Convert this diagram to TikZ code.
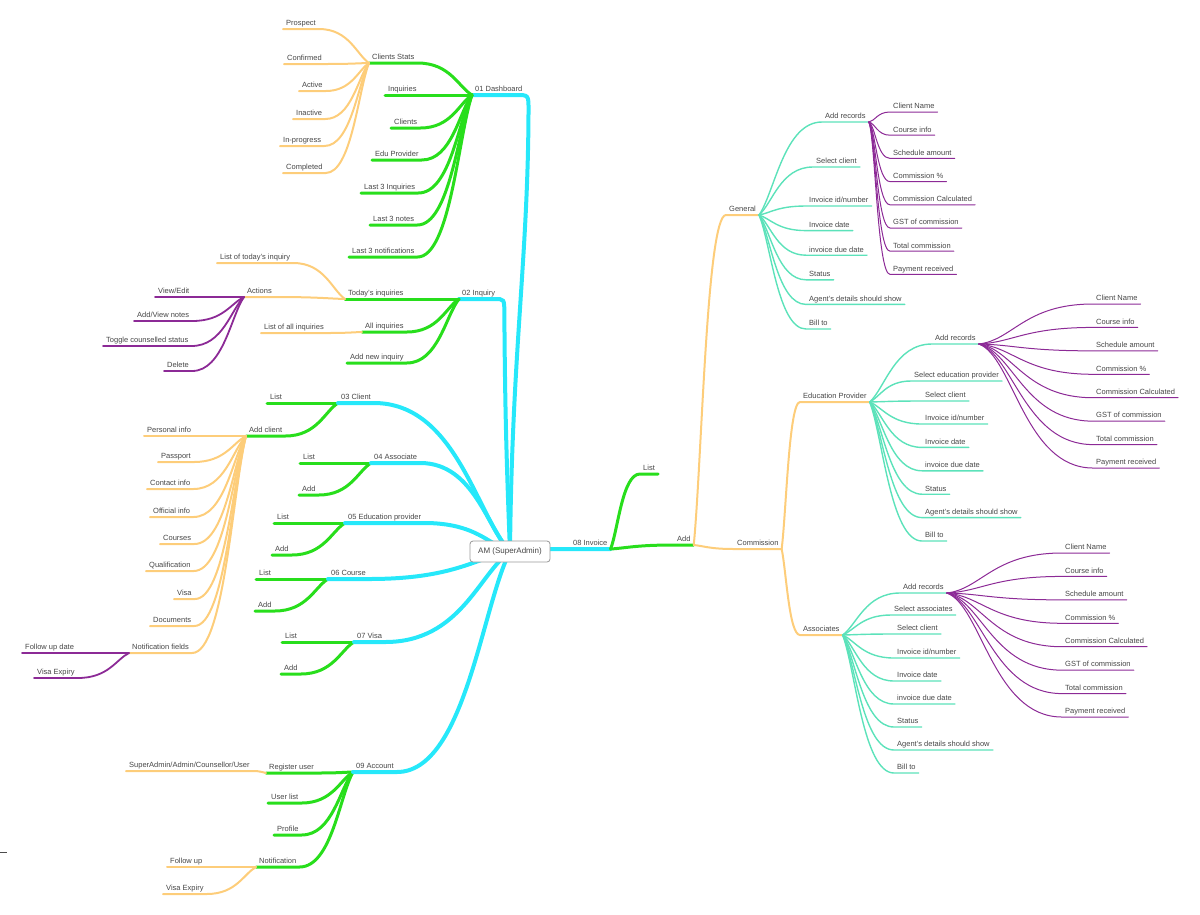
\documentclass[tikz,border=0pt]{standalone}
\usepackage{fontspec}
\setmainfont{Liberation Sans}
\usetikzlibrary{calc}
\definecolor{cyn}{RGB}{38,232,250}
\definecolor{grn}{RGB}{40,222,28}
\definecolor{org}{RGB}{253,205,122}
\definecolor{tea}{RGB}{92,226,186}
\definecolor{pur}{RGB}{140,42,150}
\definecolor{txt}{RGB}{70,70,70}
\newcommand{\recitems}{Client Name, Course info, Schedule amount, Commission \%, Commission Calculated, GST of commission, Total commission, Payment received}
\newcommand{\invitems}{Invoice id/number, Invoice date, invoice due date, Status, Agent's details should show, Bill to}

\begin{document}
\begin{tikzpicture}[
    x=1pt, y=-1pt,
    tp/.style     ={anchor=south west, inner xsep=3pt, inner ysep=1pt,
                    text height=5.6pt, text depth=2pt,
                    font=\fontsize{7.5}{9}\selectfont, text=txt},
    rootbox/.style={draw=gray!80, rounded corners=3pt, fill=white, line width=0.8pt,
                    minimum width=80pt, minimum height=21pt,
                    font=\fontsize{8}{9}\selectfont, text=txt},
    lnk/.style    ={to path={.. controls ($(\tikztostart)!0.25!(\tikztotarget)$)
                    and ($(\tikztotarget)!0.6!(\tikztostart |- \tikztotarget)$) .. (\tikztotarget)}},
    lnkh/.style   ={to path={.. controls ($0.7*(\tikztostart)+0.1*(\tikztotarget)+0.2*(\tikztotarget |- \tikztostart)$)
                    and ($(\tikztotarget)!0.6!(\tikztostart |- \tikztotarget)$) .. (\tikztotarget)}},
    br0/.style={cyn, line width=4pt, line cap=round},
    br1/.style={grn, line width=3pt, line cap=round},
    br2/.style={org, line width=2pt, line cap=round},
    br3/.style={tea, line width=1.4pt, line cap=round},
    br4/.style={pur, line width=1.8pt, line cap=round},
    br5/.style={pur, line width=1pt, line cap=round},
]
\useasboundingbox (0,0) rectangle (1200,914);
\coordinate (rc) at (510,551.5);

% 01 Dashboard
\node[tp] (dash)  at (472,95)  {01 Dashboard};
\node[tp] (cstat) at (369,63)  {Clients Stats};
\node[tp] (inqs)  at (385,95)  {Inquiries};
\node[tp] (clnt)  at (391,128) {Clients};
\node[tp] (edup)  at (372,160) {Edu Provider};
\node[tp] (l3i)   at (361,193) {Last 3 Inquiries};
\node[tp] (l3n)   at (370,225) {Last 3 notes};
\node[tp] (l3nf)  at (349,257) {Last 3 notifications};
\node[tp] (pros)  at (283,29)  {Prospect};
\node[tp] (conf)  at (284,64)  {Confirmed};
\node[tp] (actv)  at (299,91)  {Active};
\node[tp] (inac)  at (293,119) {Inactive};
\node[tp] (inpr)  at (280,146) {In-progress};
\node[tp] (cmpl)  at (283,173) {Completed};
\draw[br0] (rc) .. controls (512,350) and (528,260) .. ($(dash.south east)+(3,15)$)
   .. controls +(0,-15) .. ($(dash.south east)+(-9,0)$) -- (dash.south west);
\foreach \c in {cstat, inqs, clnt, edup, l3i, l3n, l3nf}
  \draw[br1] (dash.south west) to[lnk] (\c.south east) -- (\c.south west);
\foreach \c in {pros, conf, actv, inac, inpr, cmpl}
  \draw[br2] (cstat.south west) to[lnk] (\c.south east) -- (\c.south west);

% 02 Inquiry
\node[tp] (inq)  at (459,299) {02 Inquiry};
\node[tp] (tdy)  at (345,299) {Today's inquiries};
\node[tp] (alli) at (362,332) {All inquiries};
\node[tp] (addi) at (347,363) {Add new inquiry};
\node[tp] (ltdy) at (217,263) {List of today's inquiry};
\node[tp] (actn) at (244,297) {Actions};
\node[tp] (lall) at (261,333) {List of all inquiries};
\node[tp] (vedt) at (155,297) {View/Edit};
\node[tp] (avn)  at (134,321) {Add/View notes};
\node[tp] (tgl)  at (103,346) {Toggle counselled status};
\node[tp] (del)  at (164,371) {Delete};
\draw[br0] (rc) .. controls (506,450) and (505,400) .. ($(inq.south east)+(6,14)$)
   .. controls +(0,-14) .. ($(inq.south east)+(-4,0)$) -- (inq.south west);
\foreach \c in {tdy, alli, addi}
  \draw[br1] (inq.south west) to[lnk] (\c.south east) -- (\c.south west);
\foreach \c in {ltdy, actn}
  \draw[br2] (tdy.south west) to[lnk] (\c.south east) -- (\c.south west);
\draw[br2] (alli.south west) to[lnk] (lall.south east) -- (lall.south west);
\foreach \c in {vedt, avn, tgl, del}
  \draw[br4] (actn.south west) to[lnk] (\c.south east) -- (\c.south west);

% 03 Client
\node[tp] (cli)  at (338,403) {03 Client};
\node[tp] (clst) at (267,403) {List};
\node[tp] (addc) at (246,436) {Add client};
\node[tp] (pinf) at (144,436) {Personal info};
\node[tp] (pass) at (158,462) {Passport};
\node[tp] (cinf) at (147,489) {Contact info};
\node[tp] (oinf) at (150,517) {Official info};
\node[tp] (crs)  at (160,544) {Courses};
\node[tp] (qual) at (146,571) {Qualification};
\node[tp] (visa) at (174,599) {Visa};
\node[tp] (docs) at (150,626) {Documents};
\node[tp] (nfld) at (129,653) {Notification fields};
\node[tp] (fud)  at (22,653)  {Follow up date};
\node[tp] (vexp) at (34,678)  {Visa Expiry};
\foreach \c in {clst, addc}
  \draw[br1] (cli.south west) to[lnk] (\c.south east) -- (\c.south west);
\foreach \c in {pinf, pass, cinf, oinf, crs, qual, visa, docs, nfld}
  \draw[br2] (addc.south west) to[lnk] (\c.south east) -- (\c.south west);
\foreach \c in {fud, vexp}
  \draw[br4] (nfld.south west) to[lnk] (\c.south east) -- (\c.south west);

% 04 to 07
\node[tp] (asso) at (371,463) {04 Associate};
\node[tp] (asls) at (300,463) {List};
\node[tp] (asad) at (299,495) {Add};
\node[tp] (edu)  at (345,523) {05 Education provider};
\node[tp] (edls) at (274,523) {List};
\node[tp] (edad) at (272,555) {Add};
\node[tp] (crse) at (328,579) {06 Course};
\node[tp] (csls) at (256,579) {List};
\node[tp] (csad) at (255,611) {Add};
\node[tp] (vsa)  at (354,642) {07 Visa};
\node[tp] (vsls) at (282,642) {List};
\node[tp] (vsad) at (281,674) {Add};
\foreach \p/\l/\a in {asso/asls/asad, edu/edls/edad, crse/csls/csad, vsa/vsls/vsad} {
  \draw[br1] (\p.south west) to[lnk] (\l.south east) -- (\l.south west);
  \draw[br1] (\p.south west) to[lnk] (\a.south east) -- (\a.south west);
}

% 09 Account
\node[tp] (acct) at (353,772) {09 Account};
\node[tp] (reg)  at (266,773) {Register user};
\node[tp] (ulst) at (268,803) {User list};
\node[tp] (prof) at (274,835) {Profile};
\node[tp] (ntf)  at (256,867) {Notification};
\node[tp] (sacu) at (126,771) {SuperAdmin/Admin/Counsellor/User};
\node[tp] (fup)  at (167,867) {Follow up};
\node[tp] (vex2) at (163,894) {Visa Expiry};
\foreach \c in {reg, ulst, prof, ntf}
  \draw[br1] (acct.south west) to[lnk] (\c.south east) -- (\c.south west);
\draw[br2] (reg.south west) to[lnk] (sacu.south east) -- (sacu.south west);
\foreach \c in {fup, vex2}
  \draw[br2] (ntf.south west) to[lnk] (\c.south east) -- (\c.south west);

\foreach \c in {cli, asso, edu, crse, vsa, acct}
  \draw[br0] (rc) to[lnk] (\c.south east) -- (\c.south west);

% 08 Invoice
\node[tp] (inv)  at (570,549) {08 Invoice};
\node[tp] (ivls) at (640,474) {List};
\node[tp] (ivad) at (674,545) {Add};
\node[tp] (gen)  at (726,215) {General};
\node[tp] (com)  at (734,549) {Commission};
\node[tp] (edp)  at (800,402) {Education Provider};
\node[tp] (asoc) at (800,635) {Associates};
\draw[br0] (rc) to[lnk] (inv.south west) -- (inv.south east);
\foreach \c in {ivls, ivad}
  \draw[br1] (inv.south east) to[lnk] (\c.south west) -- (\c.south east);
\foreach \c in {gen, com}
  \draw[br2] (ivad.south east) to[lnk] (\c.south west) -- (\c.south east);
\foreach \c in {edp, asoc}
  \draw[br2] (com.south east) to[lnk] (\c.south west) -- (\c.south east);

% General
\node[tp] (garc) at (822,122) {Add records};
\node[tp] (gslc) at (813,167) {Select client};
\foreach \lbl [count=\i] in \invitems
  \node[tp] (gi\i) at (806,{206+24.6*(\i-1)}) {\lbl};
\foreach \c in {garc, gslc, gi1, gi2, gi3, gi4, gi5, gi6}
  \draw[br3] (gen.south east) to[lnk] (\c.south west) -- (\c.south east);

% Education Provider
\node[tp] (earc) at (932,344) {Add records};
\node[tp] (esel) at (911,381) {Select education provider};
\node[tp] (eslc) at (922,401) {Select client};
\foreach \lbl [count=\i] in \invitems
  \node[tp] (ei\i) at (922,{424+23.4*(\i-1)}) {\lbl};
\foreach \c in {earc, esel, eslc, ei1, ei2, ei3, ei4, ei5, ei6}
  \draw[br3] (edp.south east) to[lnk] (\c.south west) -- (\c.south east);

% Associates
\node[tp] (aarc) at (900,593) {Add records};
\node[tp] (asel) at (891,615) {Select associates};
\node[tp] (aslc) at (894,634) {Select client};
\foreach \lbl [count=\i] in \invitems
  \node[tp] (ai\i) at (894,{658+23*(\i-1)}) {\lbl};
\foreach \c in {aarc, asel, aslc, ai1, ai2, ai3, ai4, ai5, ai6}
  \draw[br3] (asoc.south east) to[lnk] (\c.south west) -- (\c.south east);

% record fields
\foreach \g/\h/\x/\y/\d in {gp/garc/890/112/23.2, ep/earc/1093/304/23.43, ap/aarc/1062/553/23.43} {
  \foreach \lbl [count=\i] in \recitems {
    \node[tp] (\g\i) at (\x,{\y+\d*(\i-1)}) {\lbl};
    \draw[br5] (\h.south east) to[lnkh] (\g\i.south west) -- (\g\i.south east);
  }
}

\draw[black!70, line width=0.8pt] (0,852) -- (7,852);
\node[rootbox] (root) at (rc) {AM (SuperAdmin)};
\end{tikzpicture}
\end{document}
